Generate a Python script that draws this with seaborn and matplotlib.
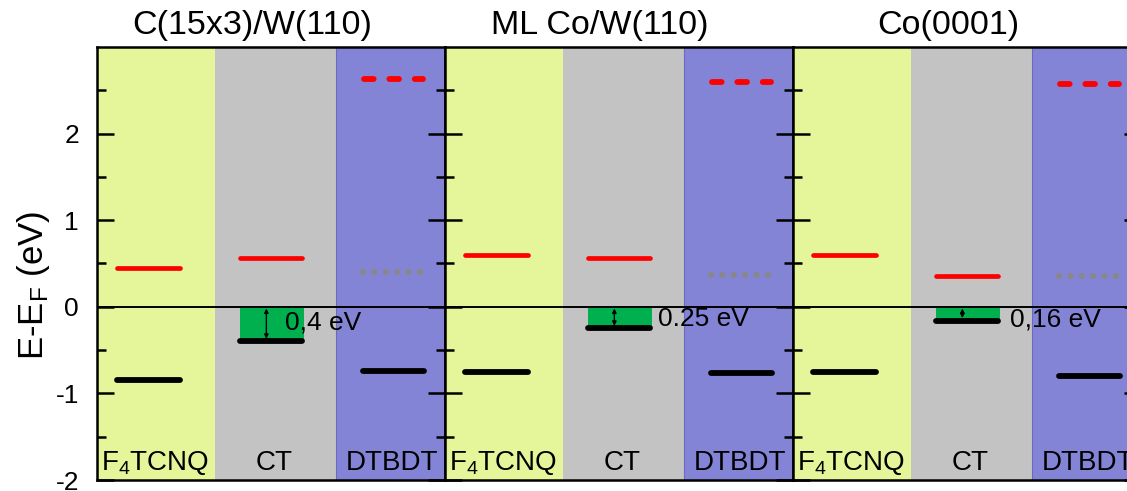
import numpy as np
import pandas as pd
import matplotlib
matplotlib.use("Agg")
import matplotlib.pyplot as plt
import seaborn as sns

# ---------------- data ----------------
substrates = ["C(15x3)/W(110)", "ML Co/W(110)", "Co(0001)"]
column_labels = ["F$_4$TCNQ", "CT", "DTBDT"]
f4_lumo = [0.45, 0.60, 0.60]
f4_homo = [-0.85, -0.75, -0.75]
ct_upper = [0.565, 0.565, 0.35]
ct_lower = [-0.40, -0.25, -0.16]
dtbdt_upper = [2.63, 2.60, 2.57]
dtbdt_dotted = [0.40, 0.37, 0.35]
dtbdt_homo = [-0.74, -0.77, -0.80]
gap_labels = ["0,4 eV", "0.25 eV", "0,16 eV"]
y_major = [-2, -1, 0, 1, 2]
y_minor = [-1.5, -0.5, 0.5, 1.5, 2.5]

# ---------------- style ----------------
sns.set_theme(style="ticks")
plt.rcParams['font.family'] = ['Liberation Sans', 'DejaVu Sans']
plt.rcParams['mathtext.default'] = 'regular'
for key in ['text.color', 'axes.labelcolor', 'xtick.color', 'ytick.color']:
    plt.rcParams[key] = 'black'

W, H = 1127, 491
fig = plt.figure(figsize=(W / 100, H / 100), dpi=100)
fig.patch.set_facecolor('white')

col_edges = [0, 1.017, 2.06, 3.0]
col_colors = ['#E5F599', '#C3C3C3', '#8484D6']
seg = {'F4': (0.175, 0.713), 'CT': (1.235, 1.765), 'DT': (2.295, 2.817)}
text_pos = [(1.62, -0.18), (1.836, -0.145), (1.87, -0.145)]
red, black, green, grey = '#FF0000', '#000000', '#00B04F', '#888888'

panel_left = [97, 445, 793]
for i, sub in enumerate(substrates):
    ax = fig.add_axes([panel_left[i] / W, 11 / H, 348 / W, 433 / H])
    ax.set_xlim(0, 3)
    ax.set_ylim(-2, 3)
    for k in range(3):
        ax.axvspan(col_edges[k], col_edges[k + 1], color=col_colors[k], lw=0, zorder=0)
    ax.axvline(col_edges[2], color='#6a6ac4', lw=0.8, zorder=0.5)

    # green CT gap box
    x0, x1 = 1.233, 1.787
    ax.fill_between([x0, x1], [ct_lower[i]] * 2, [0, 0], color=green, lw=0, zorder=1)
    ax.axhline(0, color='black', lw=1.4, zorder=3)

    def level(key, v, color, lw, **kw):
        a, b = seg[key]
        ax.plot([a, b], [v, v], color=color, lw=lw, solid_capstyle='round',
                dash_capstyle='round', zorder=4, **kw)

    level('F4', f4_lumo[i], red, 3.4)
    level('F4', f4_homo[i], black, 4.2)
    level('CT', ct_upper[i], red, 3.4)
    level('CT', ct_lower[i], black, 4.2)
    level('DT', dtbdt_homo[i], black, 4.2)
    # dashed red
    ax.plot([2.30, 2.81], [dtbdt_upper[i]] * 2, color=red, lw=4.2,
            ls=(0, (1.65, 2.7)), dash_capstyle='round', zorder=4)
    # dotted grey
    ax.plot([2.297, 2.784], [dtbdt_dotted[i]] * 2, color=grey, lw=4.4,
            ls=(0, (0.01, 1.85)), dash_capstyle='round', zorder=4)

    # arrow
    ax.annotate('', xy=(1.46, ct_lower[i] + 0.03), xytext=(1.46, -0.02),
                arrowprops=dict(arrowstyle='<|-|>', lw=1.0, color='black',
                                mutation_scale=6, shrinkA=0, shrinkB=0), zorder=5)
    tx, ty = text_pos[i]
    ax.text(tx, ty, gap_labels[i], ha='left', va='center', fontsize=19, zorder=6)

    centers = [0.5, 1.526, 2.547]
    for k in range(3):
        ax.text(centers[k], -1.89, column_labels[k], ha='center', va='baseline',
                fontsize=20, zorder=6)

    ax.text(0.445, 1.029, sub, transform=ax.transAxes, ha='center',
            va='baseline', fontsize=24.5)

    ax.set_xticks([])
    ax.set_yticks(y_major)
    ax.set_yticks(y_minor, minor=True)
    ax.tick_params(axis='y', which='both', direction='in', left=True, right=True,
                   width=1.8, color='black', labelsize=19, pad=13,
                   labelleft=(i == 0), labelright=False)
    ax.tick_params(axis='y', which='major', length=12)
    ax.tick_params(axis='y', which='minor', length=6.5)
    for s in ax.spines.values():
        s.set_visible(True)
        s.set_linewidth(1.8)
        s.set_color('black')
        s.set_zorder(7)
    if i == 0:
        ax.set_yticklabels([str(v) for v in y_major])
        ax.set_ylabel('E-E$_F$ (eV)', fontsize=25)
        ax.yaxis.set_label_coords(-0.13, 0.45)

fig.savefig('out.png', dpi=100)
